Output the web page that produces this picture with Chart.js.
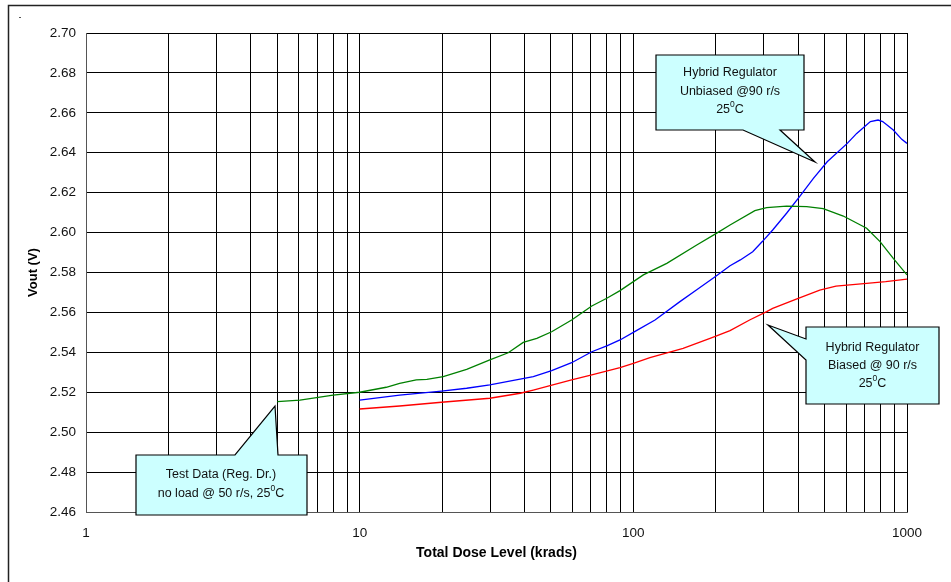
<!DOCTYPE html>
<html>
<head>
<meta charset="utf-8">
<script src="https://cdn.jsdelivr.net/npm/chart.js@4/dist/chart.umd.min.js"></script>
<style>
  html, body { margin: 0; padding: 0; background: #fff; }
  #wrap { position: relative; width: 951px; height: 582px; }
</style>
</head>
<body>
<div id="wrap"><canvas id="c" width="951" height="582"></canvas></div>
<script>
// Total dose (krads) and output voltage (V) for each curve
const testDose = [5.0, 6.05, 8.0, 10, 12.5, 14, 16.1, 17.6, 20.2, 24.6, 29.9, 34.9, 39.6, 44.4, 50.3, 59.5, 70.5, 80, 89.4, 108.8, 132.5, 170.5, 201.8, 225.6, 278, 307, 363, 430, 494, 585, 712, 797, 891, 1000];
const testVout = [2.5153, 2.5161, 2.5186, 2.5200, 2.5225, 2.5245, 2.5262, 2.5265, 2.5278, 2.5315, 2.5362, 2.5398, 2.5450, 2.5470, 2.5503, 2.5562, 2.5632, 2.5671, 2.5709, 2.5788, 2.5846, 2.5938, 2.5997, 2.6038, 2.6110, 2.6125, 2.6133, 2.6130, 2.6120, 2.6083, 2.6022, 2.5955, 2.5871, 2.5788];

const unbiasedDose = [10, 14, 19.9, 24.6, 29.9, 37.3, 43.1, 50.3, 59.5, 70.5, 80, 89.4, 102.6, 120, 148, 170, 199, 225.6, 246, 273, 296, 323, 363, 405, 455, 511, 605, 655, 735, 784, 815, 891, 957, 1000];
const unbiasedVout = [2.5161, 2.5186, 2.5206, 2.5220, 2.5237, 2.5262, 2.5278, 2.5308, 2.5348, 2.5403, 2.5432, 2.5462, 2.5509, 2.5562, 2.5654, 2.5712, 2.5779, 2.5834, 2.5863, 2.5904, 2.5955, 2.6013, 2.6097, 2.6180, 2.6272, 2.6355, 2.6447, 2.6497, 2.6556, 2.6564, 2.6556, 2.6514, 2.6467, 2.6447];

const biasedDose = [10, 14, 19.9, 29.9, 38.6, 43.1, 49.6, 59.5, 70.5, 89.4, 100, 115, 152, 195, 225.6, 266, 307, 323, 394, 480, 550, 712, 836, 1000];
const biasedVout = [2.5116, 2.5131, 2.5150, 2.5170, 2.5195, 2.5211, 2.5233, 2.5262, 2.5287, 2.5323, 2.5345, 2.5373, 2.5420, 2.5475, 2.5509, 2.5562, 2.5604, 2.5620, 2.5667, 2.5712, 2.5732, 2.5746, 2.5754, 2.5767];

// Axis ticks
const xGridValues = [1,2,3,4,5,6,7,8,9,10,20,30,40,50,60,70,80,90,100,200,300,400,500,600,700,800,900,1000];
const xLabelValues = [1, 10, 100, 1000];
const yTickValues = [2.46, 2.48, 2.50, 2.52, 2.54, 2.56, 2.58, 2.60, 2.62, 2.64, 2.66, 2.68, 2.70];

const FONT = "'Liberation Sans', Arial, Helvetica, sans-serif";

function pts(xs, ys) { return xs.map((x, i) => ({ x: x, y: ys[i] })); }

// Callout boxes with a pointer: box edges, pointer base and tip, text lines
const callouts = [
  { box: [136, 455, 307, 515], side: 'top', base: [235, 278], tip: [275, 406],
    cx: 221, lines: [['Test Data (Reg. Dr.)'], ['no load @ 50 r/s, 25', '0', 'C']], y0: 475, dy: 19 },
  { box: [656, 55, 804, 130], side: 'bottom', base: [780, 743], tip: [815, 162],
    cx: 730, lines: [['Hybrid Regulator'], ['Unbiased @90 r/s'], ['25', '0', 'C']], y0: 73, dy: 18.5 },
  { box: [806, 327, 939, 404], side: 'left', base: [360, 339], tip: [768, 325],
    cx: 872.5, lines: [['Hybrid Regulator'], ['Biased @ 90 r/s'], ['25', '0', 'C']], y0: 348, dy: 18 }
];

const calloutPlugin = {
  id: 'callouts',
  afterDatasetsDraw(chart) {
    const ctx = chart.ctx;
    ctx.save();
    callouts.forEach(c => {
      const [l, t, r, b] = c.box;
      ctx.beginPath();
      ctx.moveTo(l, t);
      if (c.side === 'top') {
        ctx.lineTo(c.base[0], t); ctx.lineTo(c.tip[0], c.tip[1]); ctx.lineTo(c.base[1], t);
      }
      ctx.lineTo(r, t);
      ctx.lineTo(r, b);
      if (c.side === 'bottom') {
        ctx.lineTo(c.base[0], b); ctx.lineTo(c.tip[0], c.tip[1]); ctx.lineTo(c.base[1], b);
      }
      ctx.lineTo(l, b);
      if (c.side === 'left') {
        ctx.lineTo(l, c.base[0]); ctx.lineTo(c.tip[0], c.tip[1]); ctx.lineTo(l, c.base[1]);
      }
      ctx.closePath();
      ctx.fillStyle = '#ccffff';
      ctx.fill();
      ctx.lineWidth = 1.2;
      ctx.strokeStyle = '#000';
      ctx.stroke();

      ctx.fillStyle = '#111';
      ctx.textBaseline = 'middle';
      ctx.textAlign = 'left';
      c.lines.forEach((parts, i) => {
        const y = c.y0 + i * c.dy;
        const big = '12.5px ' + FONT, small = '8.5px ' + FONT;
        const widths = parts.map((p, k) => { ctx.font = (k === 1) ? small : big; return ctx.measureText(p).width; });
        const total = widths.reduce((a, w) => a + w, 0);
        let x = c.cx - total / 2;
        parts.forEach((p, k) => {
          ctx.font = (k === 1) ? small : big;
          ctx.fillText(p, x, (k === 1) ? y - 5 : y);
          x += widths[k];
        });
      });
    });
    ctx.restore();
  },
  beforeDraw(chart) {
    // page frame and background
    const ctx = chart.ctx;
    ctx.save();
    ctx.fillStyle = '#fff';
    ctx.fillRect(0, 0, chart.width, chart.height);
    ctx.strokeStyle = '#222';
    ctx.lineWidth = 1.5;
    ctx.beginPath();
    ctx.moveTo(8.5, 582); ctx.lineTo(8.5, 5.5); ctx.lineTo(951, 5.5);
    ctx.stroke();
    ctx.fillStyle = '#555';
    ctx.fillRect(19, 17, 2, 1);
    ctx.restore();
  }
};

new Chart(document.getElementById('c'), {
  type: 'line',
  data: {
    datasets: [
      { label: 'Test Data (Reg. Dr.)', data: pts(testDose, testVout), borderColor: '#008000' },
      { label: 'Hybrid Regulator Unbiased', data: pts(unbiasedDose, unbiasedVout), borderColor: '#0000ff' },
      { label: 'Hybrid Regulator Biased', data: pts(biasedDose, biasedVout), borderColor: '#ff0000' }
    ]
  },
  options: {
    responsive: false,
    animation: false,
    devicePixelRatio: 1,
    layout: { padding: { left: 0, top: 33, right: 44, bottom: 0 } },
    elements: {
      point: { radius: 0 },
      line: { borderWidth: 1.3, tension: 0, fill: false }
    },
    plugins: { legend: { display: false }, tooltip: { enabled: false } },
    scales: {
      x: {
        type: 'logarithmic',
        min: 1, max: 1000,
        afterFit(s) { s.height = 70; },
        afterBuildTicks(s) { s.ticks = xGridValues.map(v => ({ value: v })); },
        grid: { color: '#000', lineWidth: 1, drawTicks: false },
        border: { color: '#555', width: 1 },
        ticks: {
          autoSkip: false, maxRotation: 0, padding: 13,
          color: '#111', font: { family: FONT, size: 13.5 },
          callback: v => xLabelValues.includes(v) ? String(v) : ''
        },
        title: {
          display: true, text: 'Total Dose Level (krads)', color: '#000',
          font: { family: FONT, size: 14, weight: 'bold' }, padding: { top: 0, bottom: 20 }
        }
      },
      y: {
        type: 'linear',
        min: 2.46, max: 2.70,
        afterFit(s) { s.width = 86; },
        afterBuildTicks(s) { s.ticks = yTickValues.map(v => ({ value: v })); },
        grid: { color: '#000', lineWidth: 1, drawTicks: false },
        border: { color: '#555', width: 1 },
        ticks: {
          padding: 10, color: '#111', font: { family: FONT, size: 13.5 },
          callback: v => Number(v).toFixed(2)
        },
        title: {
          display: true, text: 'Vout (V)', color: '#000',
          font: { family: FONT, size: 13, weight: 'bold' }, padding: { top: 26, bottom: 0 }
        }
      }
    }
  },
  plugins: [calloutPlugin]
});
</script>
</body>
</html>
